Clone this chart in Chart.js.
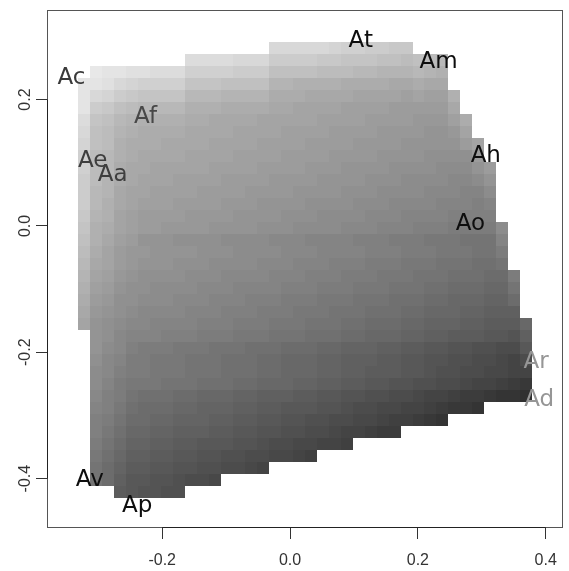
<!DOCTYPE html>
<html>
<head>
<meta charset="utf-8">
<script src="https://cdn.jsdelivr.net/npm/chart.js@4/dist/chart.umd.min.js"></script>
<style>
  html, body { margin: 0; padding: 0; background: #fff; }
</style>
</head>
<body>
<canvas id="chart" width="569" height="571"></canvas>
<script>
// axis ticks
const xTicks = [-0.2, 0.0, 0.2, 0.4];
const yTicks = [-0.4, -0.2, 0.0, 0.2];

// raster grid: cell edges in data units (38 x 38 cells)
const colEdges = [-0.332, -0.3133, -0.2946, -0.2759, -0.2572, -0.2385, -0.2198, -0.2011, -0.1824, -0.1637,
  -0.145, -0.1263, -0.1076, -0.0889, -0.0702, -0.0515, -0.0328, -0.0141, 0.0046, 0.0233,
  0.042, 0.0607, 0.0794, 0.0981, 0.1168, 0.1355, 0.1542, 0.1729, 0.1916, 0.2103,
  0.229, 0.2477, 0.2664, 0.2851, 0.3038, 0.3225, 0.3412, 0.3599, 0.3786];
const rowEdges = [0.2916, 0.2726, 0.2536, 0.2346, 0.2156, 0.1966, 0.1776, 0.1586, 0.1396, 0.1206,
  0.1016, 0.0826, 0.0636, 0.0446, 0.0256, 0.0066, -0.0124, -0.0314, -0.0504, -0.0694,
  -0.0884, -0.1074, -0.1264, -0.1454, -0.1644, -0.1834, -0.2024, -0.2214, -0.2404, -0.2594,
  -0.2784, -0.2974, -0.3164, -0.3354, -0.3544, -0.3734, -0.3924, -0.4114, -0.4304];

// first filled column of each row, then the tone of each filled cell (one char per cell)
const rowFirstCol = [16, 9, 1, 0, 0, 0, 0, 0, 0, 0, 0, 0, 0, 0, 0, 0, 0, 0, 0,
  0, 0, 0, 0, 0, 1, 1, 1, 1, 1, 1, 1, 1, 1, 1, 1, 1, 1, 3];
const toneKey = '0123456789ABCDEFGHIJKLMNOPQRSTUVWXYZabcdefghijklmnopqrstuvwxyz';
const toneRows = [
  'iiiiihggffee',
  'jjjjiiiffffeedddccbcba',
  'mllkkjjjggggfffccccbbbaaZZZaZY',
  'llkihggggdddccccZZYYYYXXXXWWXWW',
  'lihfeddddaaaZZZZXXXWWWWVVVVUVUUY',
  'lfecbaaaaYYYXXXXWWVVVVUUUUTTTTTW',
  'jdcaZYYYYXXWWWWVVVVVUUUUTTTTSSSUX',
  'icbZYXXXXWWWWVVVVUUUUTTTTSSSSRRSV',
  'hcbYXXXWWWWVVVVUUUUTTTTSSSSRRRRRTV',
  'gbaYXWWWWVVVVUUUUTTTTSSSSRRRRQQQQT',
  'gbaXWWVVVVVUUUUTTTTSSSRRRRQQQQPPPRT',
  'fbZXWVVVUUUUTTTTSSSSRRRRQQQPPPPOOPR',
  'faZWVVUUUUTTTTSSSSRRRRQQQPPPPOOONNP',
  'faYWVUUUTTTTSSSRRRRQQQQPPPOOOONNNMN',
  'eZYVUTTTTSSSSRRRRQQQPPPPOOONNNNMMMM',
  'dYXVUTTSSSSRRRRQQQPPPPOOONNNMMMLLLLP',
  'cYWUTRRRQQQQPPPPOOONNNNMMMLLLKKKJJJN',
  'bXVTSSRRRRQQQPPPPOOONNNNMMMLLLKKKJJL',
  'aWVTSRRRQQQPPPPOOONNNMMMLLLKKKJJJIIJ',
  'ZVUSRQQQQPPPOOOONNNMMMLLLKKKJJJIIIHHL',
  'YUTRQQPPPPOOONNNNMMMLLLKKKJJJIIHHHGGJ',
  'XTSQQPPPOOONNNMMMLLLKKKJJJIIIHHGGGFFH',
  'WSRQPOOOONNNMMMLLLKKKJJJIIIHHGGGFFEEE',
  'VRQPOONNNNMMMLLLKKKJJJIIHHHGGFFFEEDDDG',
  'RQONNNMMMLLLKKKJJJIIIHHGGGFFEEDDDCCBE',
  'RPOMLLLKKKJJJIIIHHHGGFFFEEDDCCBBAA99C',
  'QONLLKKKJJJIIIHHGGGFFEEEDDCCBBAA99879',
  'POMLLKKKJJJIIIHHGGGFFEEDDDCCBAA998877',
  'PNLKKKJJJIIIHHGGGFFEEDDCCBBAA99877654',
  'OMLJIIIHHGGGFFEEEDDCCBBAA998776554332',
  'NMKIHHHGGFFFEEDDCCCBBA99887765443',
  'MLJHHGGFFFEEDDCCBBAA9988766543',
  'MKIGGFFEEEDDCCBBAA99877655',
  'LJHFFEEDDCCCBBA9988776',
  'KIGEEDDCCBBAA998876',
  'JHFDDCCBBAA9987',
  'JHECCBBA998',
  'DCBBAA'
];

// point labels
const labelNames = ['Ac', 'Af', 'Ae', 'Aa', 'At', 'Am', 'Ah', 'Ao', 'Ar', 'Ad', 'Av', 'Ap'];
const labelX = [-0.342, -0.226, -0.3086, -0.2774, 0.1106, 0.2322, 0.3062, 0.2821, 0.3849, 0.3896, -0.3132, -0.2392];
const labelY = [0.234, 0.172, 0.1027, 0.0806, 0.2919, 0.2595, 0.1107, 0.003, -0.2162, -0.2756, -0.403, -0.4434];
const labelGray = [58, 72, 62, 62, 14, 14, 14, 14, 150, 150, 14, 14];

const tickFont = { family: "'Liberation Sans Narrow', 'Liberation Sans', Arial, sans-serif", size: 16 };

const rasterPlugin = {
  id: 'raster',
  beforeDatasetsDraw(chart) {
    const { ctx, scales: { x, y } } = chart;
    ctx.save();
    toneRows.forEach((row, r) => {
      const top = Math.round(y.getPixelForValue(rowEdges[r]));
      const bottom = Math.round(y.getPixelForValue(rowEdges[r + 1]));
      for (let i = 0; i < row.length; i++) {
        const c = rowFirstCol[r] + i;
        const left = Math.round(x.getPixelForValue(colEdges[c]));
        const right = Math.round(x.getPixelForValue(colEdges[c + 1]));
        const g = 40 + 4 * toneKey.indexOf(row[i]);
        ctx.fillStyle = `rgb(${g},${g},${g})`;
        ctx.fillRect(left, top, right - left, bottom - top);
      }
    });
    ctx.restore();
  },
  afterDatasetsDraw(chart) {
    const { ctx } = chart;
    const meta = chart.getDatasetMeta(0);
    ctx.save();
    ctx.font = "23px 'DejaVu Sans', sans-serif";
    ctx.textAlign = 'center';
    ctx.textBaseline = 'middle';
    meta.data.forEach((pt, i) => {
      const g = labelGray[i];
      ctx.fillStyle = `rgb(${g},${g},${g})`;
      ctx.fillText(labelNames[i], pt.x, pt.y);
    });
    ctx.restore();
  },
  afterDraw(chart) {
    const { ctx, chartArea: a, scales: { x, y } } = chart;
    ctx.save();
    ctx.lineWidth = 1;
    ctx.strokeStyle = '#555';
    ctx.strokeRect(Math.round(a.left) + 0.5, Math.round(a.top) + 0.5,
      Math.round(a.right - a.left) - 1, Math.round(a.bottom - a.top) - 1);
    // R style axis lines between the outer ticks
    ctx.strokeStyle = '#222';
    ctx.beginPath();
    const bx = Math.round(a.bottom) - 0.5;
    ctx.moveTo(x.getPixelForValue(xTicks[0]), bx);
    ctx.lineTo(x.getPixelForValue(xTicks[xTicks.length - 1]), bx);
    const lx = Math.round(a.left) + 0.5;
    ctx.moveTo(lx, y.getPixelForValue(yTicks[0]));
    ctx.lineTo(lx, y.getPixelForValue(yTicks[yTicks.length - 1]));
    ctx.stroke();
    ctx.restore();
  }
};

new Chart(document.getElementById('chart'), {
  type: 'scatter',
  data: {
    datasets: [{
      data: labelNames.map((n, i) => ({ x: labelX[i], y: labelY[i] })),
      pointRadius: 0,
      pointHoverRadius: 0
    }]
  },
  options: {
    responsive: false,
    devicePixelRatio: 1,
    animation: false,
    events: [],
    layout: { padding: { top: 10, right: 4, left: 0, bottom: 0 } },
    plugins: { legend: { display: false }, tooltip: { enabled: false } },
    scales: {
      x: {
        type: 'linear',
        min: -0.3802,
        max: 0.427,
        afterBuildTicks: s => { s.ticks = xTicks.map(v => ({ value: v })); },
        afterFit: s => { s.height = 43; },
        ticks: { font: tickFont, color: '#333', padding: 12, callback: v => Number(v).toFixed(1) },
        grid: { drawOnChartArea: false, drawTicks: true, tickLength: 11, tickColor: '#333' },
        border: { display: false }
      },
      y: {
        type: 'linear',
        min: -0.4782,
        max: 0.3418,
        afterBuildTicks: s => { s.ticks = yTicks.map(v => ({ value: v })); },
        afterFit: s => { s.width = 47; },
        ticks: {
          font: tickFont, color: '#333', padding: -3,
          minRotation: 90, maxRotation: 90, crossAlign: 'center',
          callback: v => Number(v).toFixed(1)
        },
        grid: { drawOnChartArea: false, drawTicks: true, tickLength: 11, tickColor: '#333' },
        border: { display: false }
      }
    }
  },
  plugins: [rasterPlugin]
});
</script>
</body>
</html>
